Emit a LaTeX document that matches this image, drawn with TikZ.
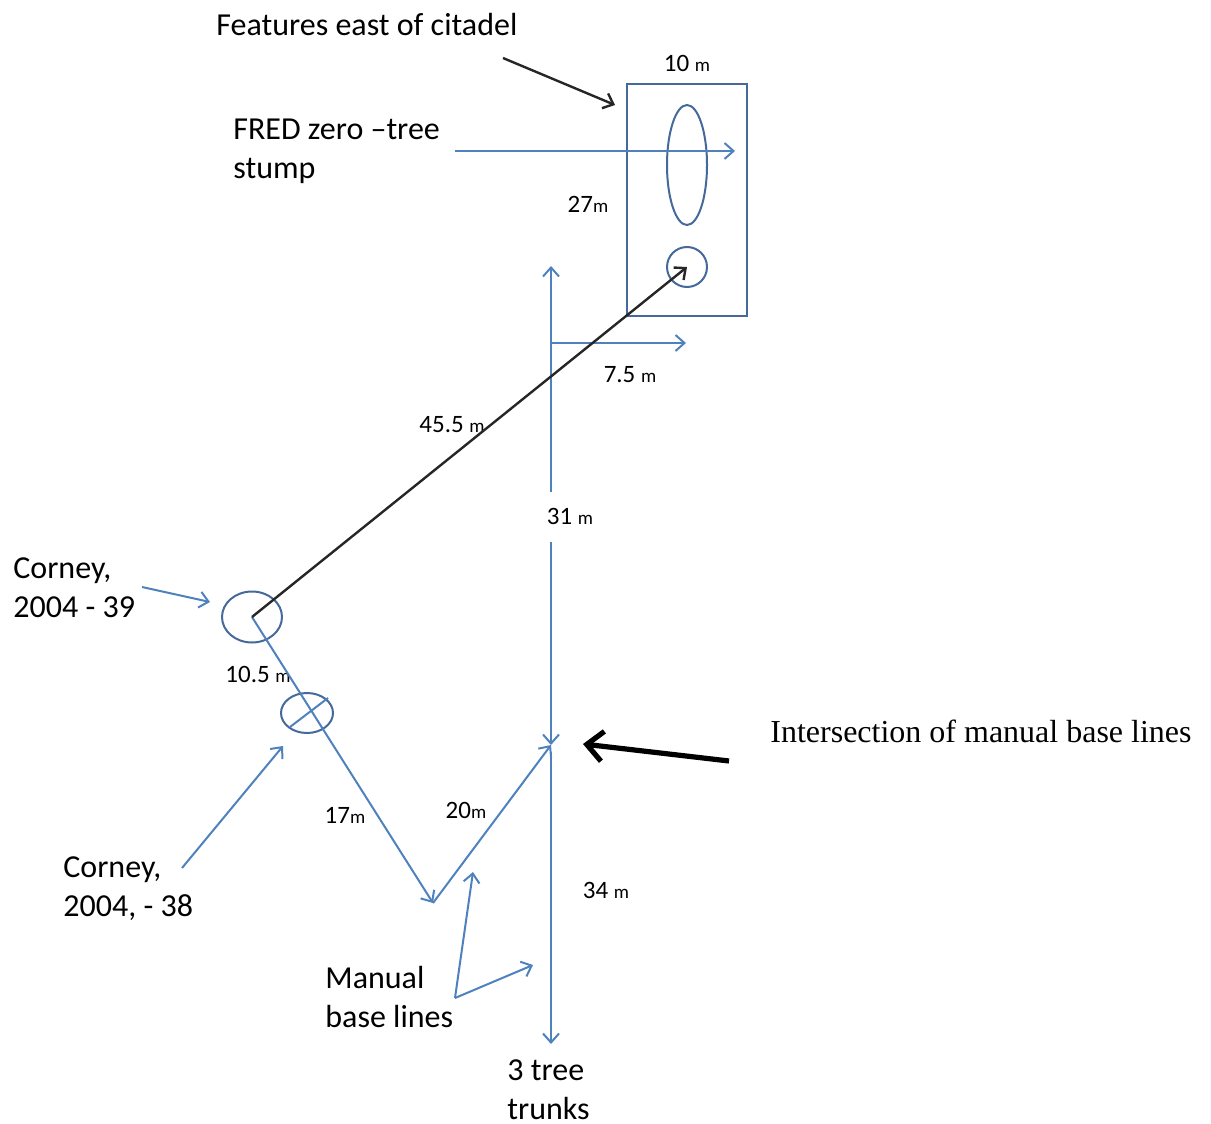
\documentclass[tikz,border=0pt]{standalone}
\usepackage{fontspec}
\setmainfont{Carlito}
\newfontfamily\timesf{Liberation Serif}
\usetikzlibrary{arrows.meta,shapes.geometric}
\definecolor{bl}{HTML}{4F81BD}
\definecolor{dbl}{HTML}{44699A}
\newcommand\smm{{\fontsize{9.5}{10}\selectfont m}}
\begin{document}
\begin{tikzpicture}[x=0.5pt,y=-0.5pt,
  bline/.style={draw=bl,line width=1pt},
  barr/.style={bline,-{Straight Barb[length=4.5pt,width=8pt]}},
  karr/.style={draw=black!85,line width=1.2pt,-{Straight Barb[length=4.5pt,width=8pt]}},
  big/.style={font=\fontsize{16}{19.5}\selectfont,inner sep=0pt,anchor=base west},
  lab/.style={font=\fontsize{12.5}{14}\selectfont,inner sep=0pt},
  outl/.style={draw=dbl,line width=1pt,inner sep=0pt}]
\useasboundingbox (0,0) rectangle (1211,1124);

% shapes
\node[outl,rectangle,minimum width=60pt,minimum height=116pt] (box) at (686.5,200) {};
\node[outl,ellipse,minimum width=20pt,minimum height=60pt] (stump) at (687,165) {};
\node[outl,circle,minimum size=20pt] (fred) at (687,267) {};
\node[outl,ellipse,minimum width=30pt,minimum height=25.5pt] (c39) at (252,617) {};
\node[outl,ellipse,minimum width=26pt,minimum height=20pt] (c38) at (307,713) {};

% coordinates
\coordinate (vb) at (433,903);
\coordinate (ix) at (551,745);
\coordinate (vtop) at (551,266);
\coordinate (gtop) at (551,492);
\coordinate (gbot) at (551,542);
\coordinate (h0) at (551,343);
\coordinate (h1) at (686,343);
\coordinate (d0) at (551,752);
\coordinate (d1) at (551,1044);
\coordinate (f0) at (455,151);
\coordinate (f1) at (735,151);
\coordinate (e0) at (503,58);
\coordinate (e1) at (615,105);
\coordinate (k0) at (142,587);
\coordinate (k1) at (210,602);
\coordinate (m0) at (182,868);
\coordinate (m1) at (283,746);
\coordinate (mb) at (455,998);
\coordinate (mb1) at (473,872);
\coordinate (mb2) at (533,965);
\coordinate (i0) at (729,761);
\coordinate (i1) at (583,744);
\coordinate (x0) at (290,727);
\coordinate (x1) at (328,698);

% texts
\node[big] (feat) at (216,35) {Features east of citadel};
\node[big] (fredt) at (233,139) {\begin{tabular}[t]{@{}l@{}}FRED zero –tree\\stump\end{tabular}};
\node[big] (k39) at (13,578) {\begin{tabular}[t]{@{}l@{}}Corney,\\2004 - 39\end{tabular}};
\node[big] (k38) at (63,877) {\begin{tabular}[t]{@{}l@{}}Corney,\\2004, - 38\end{tabular}};
\node[big] (man) at (325,988) {\begin{tabular}[t]{@{}l@{}}Manual\\base lines\end{tabular}};
\node[big] (tree) at (507,1080) {\begin{tabular}[t]{@{}l@{}}3 tree\\trunks\end{tabular}};
\node[big,font=\timesf\fontsize{16}{19.5}\selectfont] (inter) at (770,742) {Intersection of manual base lines};

\node[lab] (l10) at (687,63) {10 \smm};
\node[lab] (l27) at (588,204) {27\smm};
\node[lab] (l75) at (630,375) {7.5 \smm};
\node[lab] (l455) at (452,425) {45.5 \smm};
\node[lab] (l31) at (570,516) {31 \smm};
\node[lab] (l105) at (258,674) {10.5 \smm};
\node[lab] (l17) at (345,815) {17\smm};
\node[lab] (l20) at (466,810) {20\smm};
\node[lab] (l34) at (606,890) {34 \smm};

% connectors
\draw[barr] (f0) -- (f1);
\draw[barr] (gtop) -- (vtop);
\draw[barr] (gbot) -- (ix);
\draw[barr] (h0) -- (h1);
\draw[barr] (d0) -- (d1);
\draw[barr] (c39.center) -- (vb);
\draw[barr] (vb) -- (ix);
\draw[bline] (x0) -- (x1);
\draw[barr] (k0) -- (k1);
\draw[barr] (m0) -- (m1);
\draw[barr] (mb) -- (mb1);
\draw[barr] (mb) -- (mb2);
\draw[karr] (e0) -- (e1);
\draw[karr] (c39.center) -- (fred.center);
\draw[draw=black,line width=2.6pt,-{Straight Barb[length=8pt,width=15pt]}] (i0) -- (i1);
\end{tikzpicture}
\end{document}
